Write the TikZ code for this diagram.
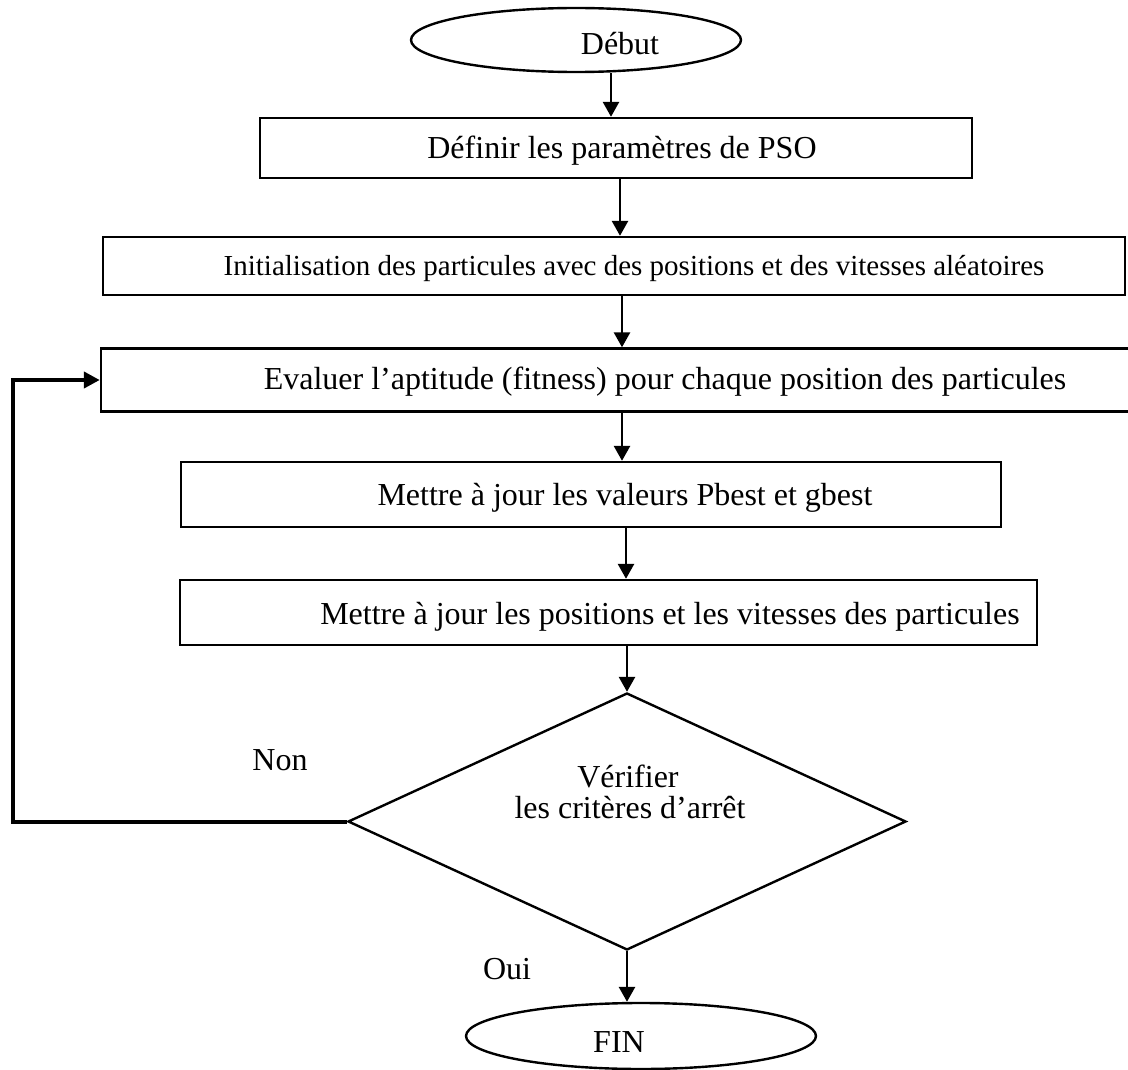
\documentclass[tikz,border=0pt]{standalone}
\usepackage{fontspec}
\setmainfont{Liberation Serif}
\usetikzlibrary{shapes.geometric,arrows.meta}
\begin{document}
\begin{tikzpicture}[x=1pt,y=-1pt,
  box/.style={draw,line width=2.4pt,rectangle,inner sep=0pt},
  oval/.style={draw,line width=2.4pt,ellipse,inner sep=0pt},
  txt/.style={font=\fontsize{32}{38}\selectfont,inner sep=0pt,anchor=base},
  arr/.style={line width=2.8pt,-{Triangle[length=15pt,width=16pt]}},
  looparr/.style={line width=4pt,-{Triangle[length=16pt,width=16pt]}},
]
\useasboundingbox (0,0) rectangle (1128,1070);
% shapes
\node[oval,minimum width=330pt,minimum height=64pt] (debut) at (576,40) {};
\node[box,minimum width=712pt,minimum height=60pt] (b1) at (616,148) {};
\node[box,minimum width=1022pt,minimum height=58pt] (b2) at (614,266) {};
\node[box,minimum width=1034pt,minimum height=63pt] (b3) at (618,380) {};
\node[box,minimum width=820pt,minimum height=65pt] (b4) at (591,494.5) {};
\node[box,minimum width=857pt,minimum height=65pt] (b5) at (608.5,612.5) {};
\node[draw,line width=2.4pt,diamond,inner sep=0pt,minimum width=558pt,minimum height=257pt] (dec) at (627,821.5) {};
\node[oval,minimum width=350pt,minimum height=66pt] (fin) at (641,1036) {};
% texts
\node[txt] (tdebut) at (620,55) {Début};
\node[txt] (t1) at (622,159) {Définir les paramètres de PSO};
\node[txt,font=\fontsize{29}{35}\selectfont] (t2) at (634,275) {Initialisation des particules avec des positions et des vitesses aléatoires};
\node[txt] (t3) at (665,389) {Evaluer l’aptitude (fitness) pour chaque position des particules};
\node[txt] (t4) at (625,505) {Mettre à jour les valeurs Pbest et gbest};
\node[txt] (t5) at (670,624) {Mettre à jour les positions et les vitesses des particules};
\node[txt] (t6) at (628,787) {Vérifier};
\node[txt] (t7) at (630,818) {les critères d’arrêt};
\node[txt] (toui) at (507,979) {Oui};
\node[txt] (tnon) at (280,770) {Non};
\node[txt] (tfin) at (619,1052) {FIN};
% connectors
\coordinate (x1) at (611,0);
\coordinate (x2) at (620,0);
\coordinate (x3) at (622,0);
\coordinate (x5) at (626,0);
\coordinate (x6) at (627,0);
\coordinate (lx) at (13,0);
\draw[arr] (x1 |- debut.south) -- (x1 |- b1.north);
\draw[arr] (x2 |- b1.south) -- (x2 |- b2.north);
\draw[arr] (x3 |- b2.south) -- (x3 |- b3.north);
\draw[arr] (x3 |- b3.south) -- (x3 |- b4.north);
\draw[arr] (x5 |- b4.south) -- (x5 |- b5.north);
\draw[arr] (x6 |- b5.south) -- (x6 |- dec.north);
\draw[arr] (x6 |- dec.south) -- (x6 |- fin.north);
\draw[looparr] (dec.west) -- (dec.west -| lx) |- (b3.west);
\end{tikzpicture}
\end{document}
